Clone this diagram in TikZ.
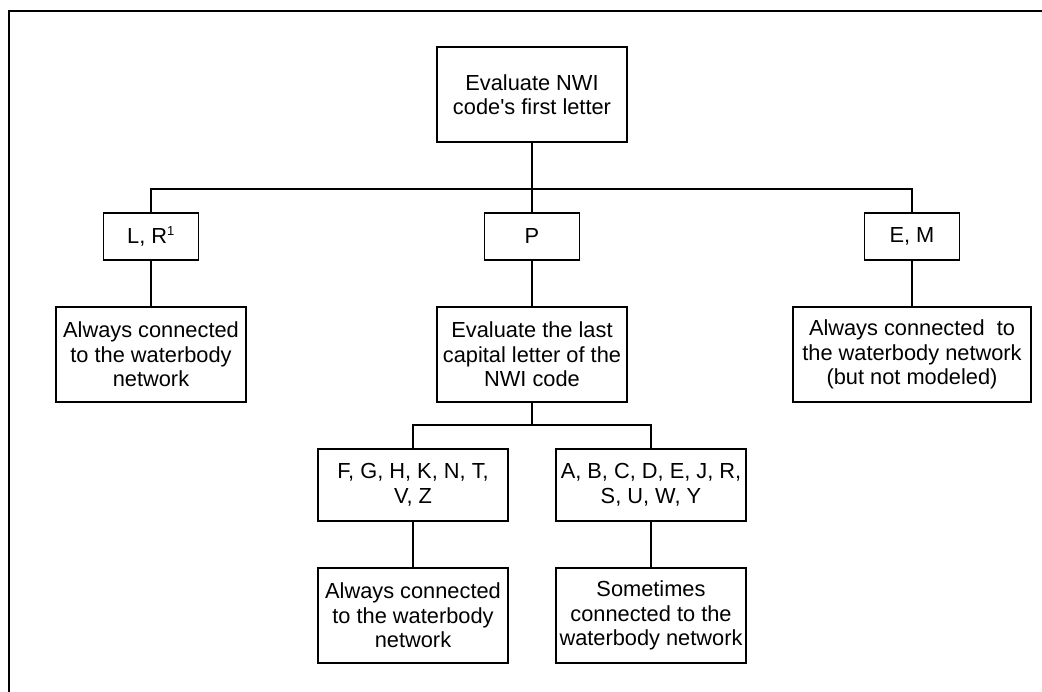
\documentclass[tikz,border=0pt]{standalone}
\usepackage{fontspec}
\setmainfont{Liberation Sans}[Ligatures=TeXOff]
\usetikzlibrary{positioning}
\begin{document}
\begin{tikzpicture}[x=1pt, y=-1pt, line width=1.6pt,
    box/.style={draw, rectangle, align=center, inner sep=0pt, font=\fontsize{21.8}{24.5}\selectfont},
    small/.style={box, minimum width=95pt, minimum height=47pt},
    big/.style={box, minimum width=190pt, minimum height=95pt},
    mid/.style={box, minimum width=190pt, minimum height=72pt}]
    \useasboundingbox (0,0) rectangle (1042,692);
    \draw (1042,11) -- (9,11) -- (9,692);

    \node (first) [big] at (532,94.5) {Evaluate NWI\\code's first letter};
    \node (lr) [small] at (151,236.5) {L, R\textsuperscript{\fontsize{13}{13}\selectfont 1}};
    \node (p) [small] at (532,236.5) {P};
    \node (em) [small] at (912,236.5) {E, M};
    \node (lrout) [big] at (151,354.5) {Always connected\\to the waterbody\\network};
    \node (last) [big] at (532,354.5) {Evaluate the last\\capital letter of the\\NWI code};
    \node (emout) [big, minimum width=238pt] at (912,354.5) {Always connected~ to\\the waterbody network\\(but not modeled)};
    \node (fg) [mid] at (413,485) {F, G, H, K, N, T,\\V, Z};
    \node (ab) [mid] at (651,485) {A, B, C, D, E, J, R,\\S, U, W, Y};
    \node (fgout) [big] at (413,615.5) {Always connected\\to the waterbody\\network};
    \node (about) [big] at (651,615.5) {Sometimes\\connected to the\\waterbody network};

    \coordinate (bar) at (532,189);
    \coordinate (bar2) at (532,425);
    \draw (first) -- (p);
    \draw (lr.north) |- (bar) -| (em.north);
    \draw (lr) -- (lrout);
    \draw (p) -- (last);
    \draw (em) -- (emout);
    \draw (last) -- (bar2);
    \draw (fg.north) |- (bar2) -| (ab.north);
    \draw (fg) -- (fgout);
    \draw (ab) -- (about);
\end{tikzpicture}
\end{document}
